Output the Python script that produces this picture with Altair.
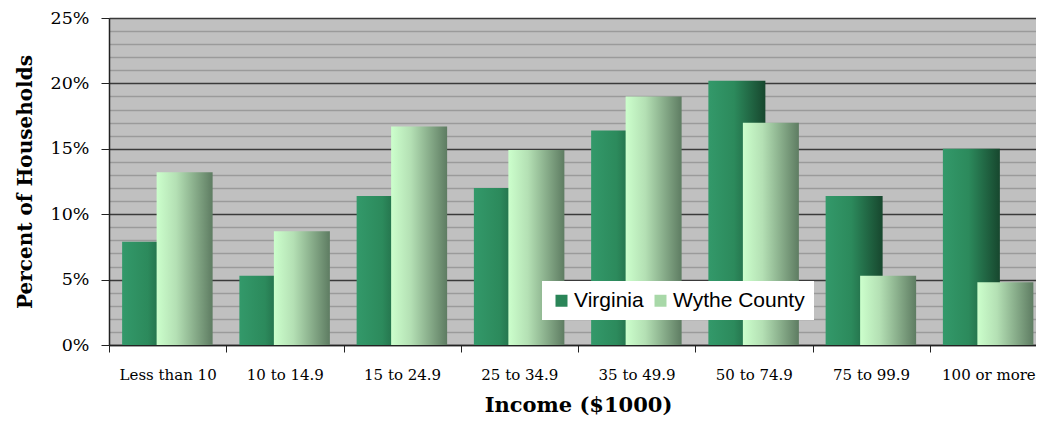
import altair as alt
import pandas as pd

categories = ["Less than 10", "10 to 14.9", "15 to 24.9", "25 to 34.9",
              "35 to 49.9", "50 to 74.9", "75 to 99.9", "100 or more"]
virginia = [7.9, 5.3, 11.4, 12.0, 16.4, 20.2, 11.4, 15.0]
wythe = [13.2, 8.7, 16.7, 14.9, 19.0, 17.0, 5.3, 4.8]
series_names = ["Virginia", "Wythe County"]

rows = []
for c, v in zip(categories, virginia):
    rows.append({"Income": c, "Series": series_names[0], "Value": v})
for c, v in zip(categories, wythe):
    rows.append({"Income": c, "Series": series_names[1], "Value": v})
df = pd.DataFrame(rows)

SERIF = "DejaVu Serif"
major_test = "datum.value % 5 === 0"

x_enc = alt.X("Income:N", sort=categories,
              scale=alt.Scale(paddingInner=0, paddingOuter=0),
              axis=alt.Axis(title="Income ($1000)", labelAngle=0, tickBand="extent",
                            labelFont=SERIF, labelFontSize=15, labelColor="#000",
                            labelPadding=15,
                            titleFont=SERIF, titleFontSize=21, titleFontWeight="bold",
                            titleColor="#000", titlePadding=12,
                            domainColor="#222", domainWidth=1.5, tickColor="#222",
                            tickSize=7, grid=False))
y_enc = alt.Y("Value:Q",
              scale=alt.Scale(domain=[0, 25], nice=False),
              axis=alt.Axis(title="Percent of Households",
                            values=list(range(0, 26)),
                            labelExpr="datum.value % 5 === 0 ? datum.value + '%' : ''",
                            labelFont=SERIF, labelFontSize=17.5, labelColor="#000",
                            labelPadding=12,
                            titleFont=SERIF, titleFontSize=20, titleFontWeight="bold",
                            titleColor="#000", titlePadding=15,
                            grid=True,
                            gridColor={"condition": {"test": major_test, "value": "#3a3a3a"},
                                       "value": "#9a9a9a"},
                            gridWidth=1.5,
                            tickColor={"condition": {"test": major_test, "value": "#222"},
                                       "value": "transparent"},
                            tickSize=8, domainColor="#222", domainWidth=1.5))

grad_va = alt.Gradient(gradient="linear", x1=0, x2=1, y1=0, y2=0, stops=[
    alt.GradientStop(color="#33996a", offset=0),
    alt.GradientStop(color="#2c8a5c", offset=0.45),
    alt.GradientStop(color="#17472e", offset=1)])
grad_wy = alt.Gradient(gradient="linear", x1=0, x2=1, y1=0, y2=0, stops=[
    alt.GradientStop(color="#ccffcc", offset=0),
    alt.GradientStop(color="#b4e0b4", offset=0.35),
    alt.GradientStop(color="#5e7c62", offset=1)])

base = alt.Chart(df)
bars_va = base.transform_filter(alt.datum.Series == series_names[0]).mark_bar(
    color=grad_va, width=57, xOffset=-17).encode(x=x_enc, y=y_enc)
bars_wy = base.transform_filter(alt.datum.Series == series_names[1]).mark_bar(
    color=grad_wy, width=56, xOffset=17).encode(x=x_enc, y=y_enc)
legend_layer = base.mark_square(opacity=0, size=1).encode(
    x=x_enc, y=y_enc,
    color=alt.Color("Series:N", sort=series_names,
                    scale=alt.Scale(domain=series_names, range=["#2a8558", "#a8d8a8"]),
                    legend=alt.Legend(title=None, orient="none", direction="horizontal",
                                      legendX=433, legendY=263,
                                      fillColor="#ffffff", padding=9,
                                      symbolType="square", symbolSize=144,
                                      symbolOpacity=1, symbolStrokeWidth=0,
                                      labelFont="Liberation Sans", labelFontSize=21,
                                      labelColor="#000", columnPadding=6,
                                      labelOffset=2, labelLimit=300)))

chart = alt.layer(bars_va, bars_wy, legend_layer).properties(
    width=938, height=327,
    autosize=alt.AutoSizeParams(type="none"),
    padding={"left": 101, "top": 10, "right": -11, "bottom": 72},
    background="#ffffff",
).configure_view(fill="#c0c0c0", stroke=None)

chart.save("out.html", embed_options={"renderer": "svg", "actions": False})
